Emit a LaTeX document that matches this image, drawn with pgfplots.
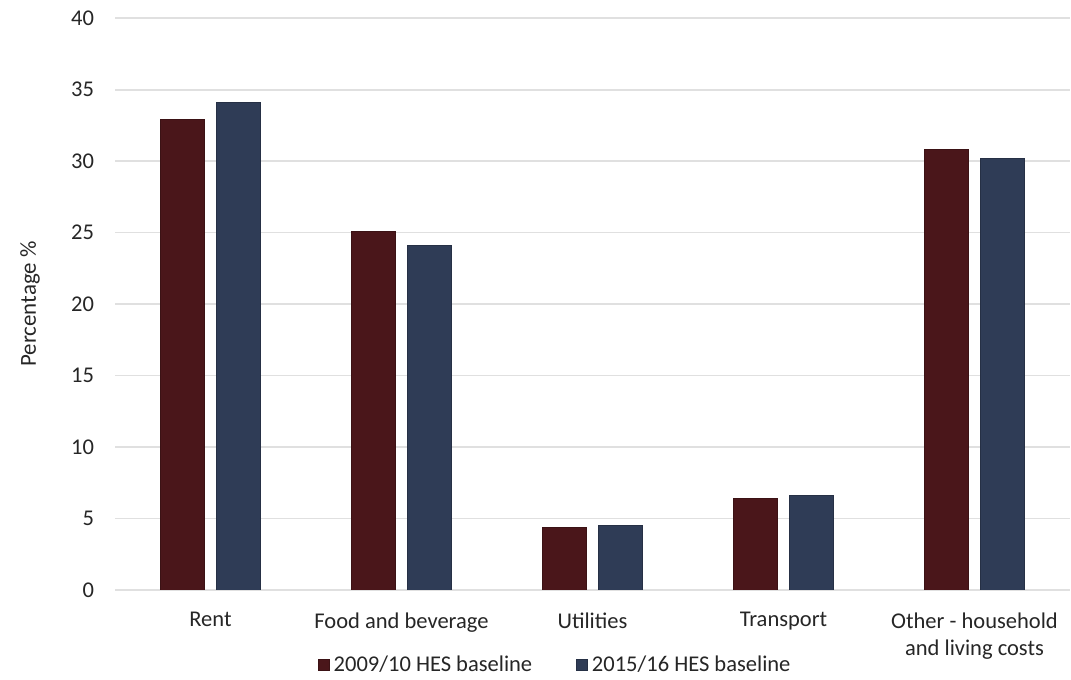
\documentclass[border=0pt]{standalone}
\usepackage{pgfplots}
\pgfplotsset{compat=1.18}
\usepackage{fontspec}
\setmainfont{Carlito}
\definecolor{redbar}{HTML}{4A161A}
\definecolor{bluebar}{HTML}{2F3C56}
\definecolor{gridc}{HTML}{E0E0E0}
\begin{document}
\begin{tikzpicture}
\path[use as bounding box] (-57.5bp,-45bp) rectangle (478bp,295bp);
\begin{axis}[
  at={(0,0)}, anchor=south west,
  scale only axis,
  width=477.5bp, height=286bp,
  ybar=6bp, bar width=22bp,
  xmin=-0.5, xmax=4.5,
  ymin=0, ymax=40,
  ytick={0,5,...,40},
  xtick=data,
  xticklabels={Rent,Food and beverage,Utilities,Transport,{Other - household\\and living costs}},
  xticklabel style={align=center, text=black!85, font=\fontsize{11.3}{13.5}\selectfont, yshift=-3.5bp},
  yticklabel style={text=black!85, font=\fontsize{11.3}{13}\selectfont, xshift=-7bp},
  /pgf/number format/assume math mode=true,
  axis line style={draw=none},
  major tick style={draw=none},
  ymajorgrids, grid style={gridc, line width=1pt},
  ylabel={Percentage \%},
  ylabel style={at={(axis description cs:-0.089,0.5)}, anchor=center, text=black!85, font=\fontsize{11.5}{13}\selectfont},
  legend style={at={(axis description cs:0.462,-0.131)}, anchor=center, draw=none, legend columns=2,
    font=\fontsize{11.3}{13}\selectfont, text=black!85,
    /tikz/every even column/.append style={column sep=20bp}},
  legend image code/.code={\fill[#1] (0bp,-2.75bp) rectangle (5.5bp,2.75bp);},
]
\addplot[fill=redbar, draw=redbar!80!black] coordinates {(0,32.9) (1,25.1) (2,4.4) (3,6.4) (4,30.8)};
\addplot[fill=bluebar, draw=bluebar!80!black] coordinates {(0,34.1) (1,24.1) (2,4.5) (3,6.6) (4,30.2)};
\legend{2009/10 HES baseline, 2015/16 HES baseline}
\end{axis}
\end{tikzpicture}
\end{document}
